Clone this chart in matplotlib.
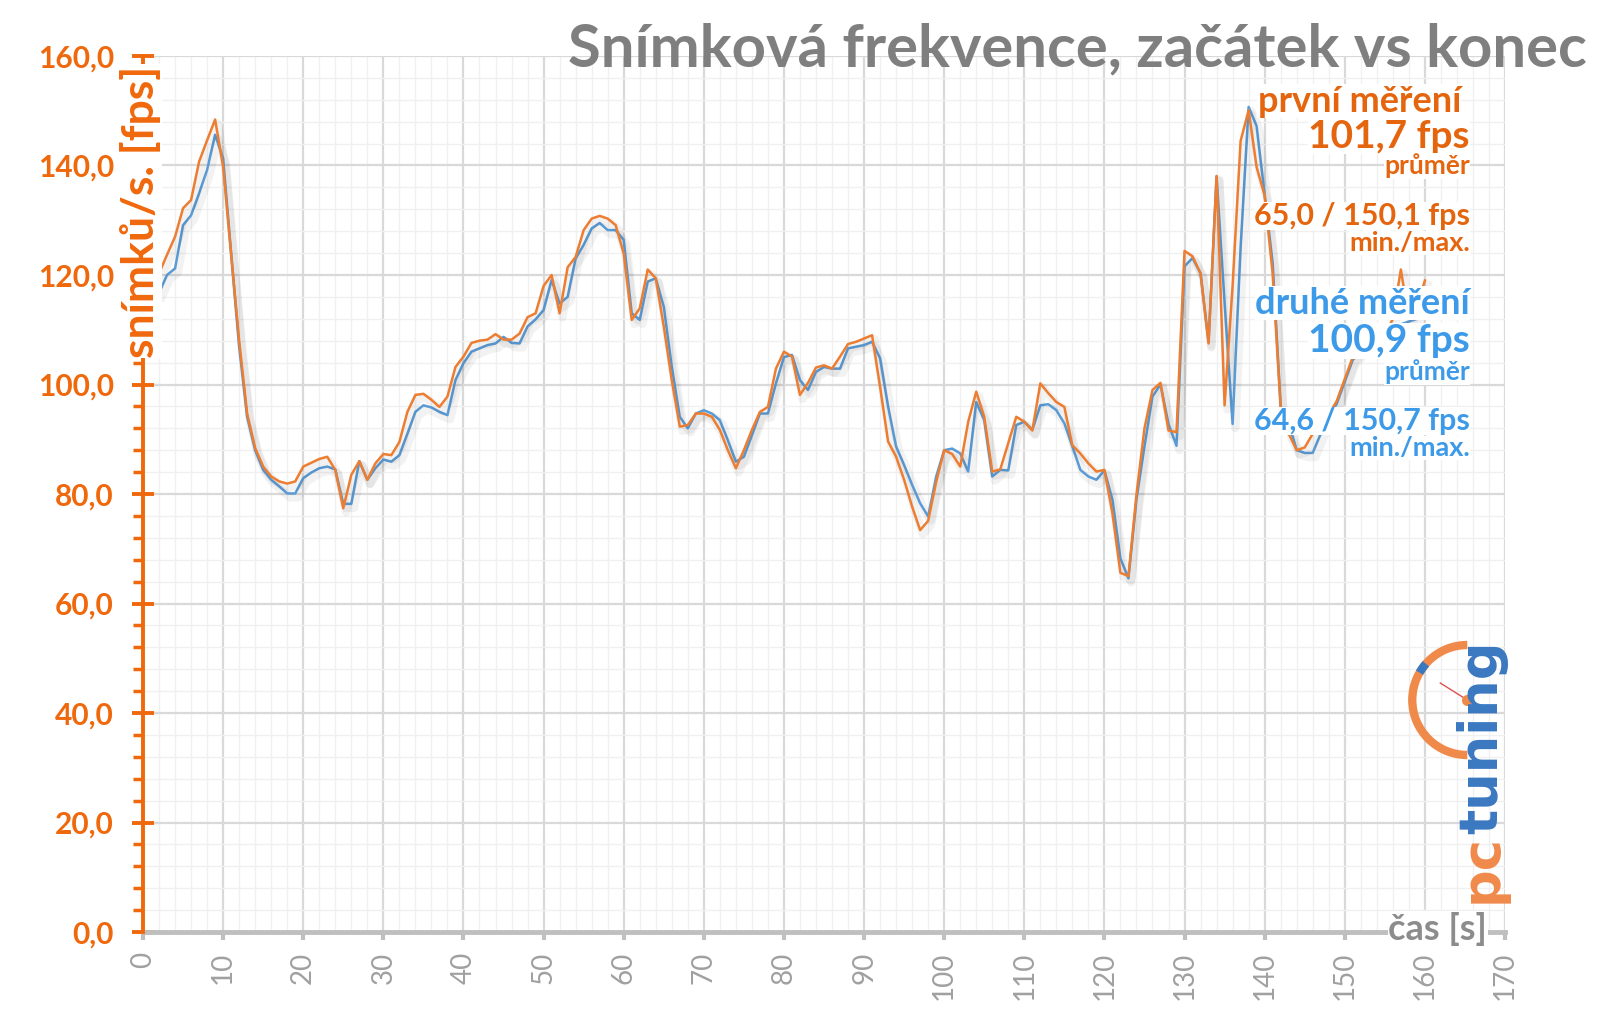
import matplotlib
matplotlib.use('Agg')
import matplotlib.pyplot as plt
import matplotlib.patheffects as pe
from matplotlib.patches import Arc
from matplotlib.ticker import MultipleLocator, FuncFormatter

plt.rcParams['font.family'] = ['Lato', 'DejaVu Sans']

# data, one point per second
seconds = list(range(2, 161))
first_run = [
    120.3, 123.7, 127.0, 132.2, 133.7, 140.7, 144.6, 148.4, 139.8, 124.0,   # 2-11
    108.0, 94.7, 88.4, 85.0, 83.2, 82.3, 81.9, 82.3, 85.0, 85.7,            # 12-21
    86.4, 86.8, 84.4, 77.4, 83.5, 86.0, 82.6, 85.6, 87.3, 87.1,             # 22-31
    89.5, 95.0, 98.1, 98.3, 97.2, 95.9, 97.8, 103.2, 105.1, 107.6,          # 32-41
    108.0, 108.2, 109.2, 108.2, 108.2, 109.3, 112.3, 113.0, 118.0, 120.0,   # 42-51
    113.0, 121.4, 123.3, 128.2, 130.3, 130.8, 130.3, 129.1, 123.9, 111.8,   # 52-61
    113.9, 121.0, 119.4, 110.6, 100.8, 92.3, 92.6, 94.7, 94.7, 94.1,        # 62-71
    91.7, 88.0, 84.7, 88.0, 91.7, 95.0, 95.9, 102.9, 106.0, 105.1,          # 72-81
    98.1, 100.3, 103.1, 103.5, 102.9, 105.1, 107.4, 107.8, 108.4, 109.0,    # 82-91
    99.6, 89.6, 86.8, 82.6, 77.7, 73.4, 75.1, 82.2, 88.0, 87.3,             # 92-101
    85.0, 93.2, 98.7, 94.1, 84.1, 84.5, 89.3, 94.1, 93.2, 91.6,             # 102-111
    100.2, 98.4, 96.8, 95.9, 88.9, 87.4, 85.6, 84.1, 84.4, 76.5,            # 112-121
    65.6, 65.0, 79.9, 92.0, 99.0, 100.3, 91.6, 91.3, 124.4, 123.4,          # 122-131
    120.3, 107.5, 138.1, 96.2, 118.0, 144.5, 150.1, 139.7, 134.5, 120.3,    # 132-141
    95.9, 91.0, 88.0, 88.5, 91.0, 93.5, 94.5, 97.0, 101.0, 105.0,           # 142-151
    107.0, 108.0, 110.0, 109.0, 112.0, 121.0, 112.0, 114.0, 119.0,          # 152-160
]
second_run = [
    116.7, 120.0, 121.2, 129.1, 130.9, 134.9, 139.2, 145.6, 141.3, 124.0,
    107.0, 94.1, 88.0, 84.4, 82.6, 81.4, 80.1, 80.1, 82.9, 83.9,
    84.7, 85.0, 84.5, 78.2, 78.2, 86.0, 82.6, 84.7, 86.3, 85.9,
    87.1, 91.0, 95.0, 96.2, 95.8, 95.0, 94.4, 100.8, 103.9, 106.0,
    106.6, 107.2, 107.5, 108.7, 107.6, 107.5, 110.6, 111.9, 113.6, 119.1,
    114.8, 116.0, 123.0, 125.5, 128.5, 129.5, 128.2, 128.2, 126.4, 113.0,
    111.8, 118.8, 119.4, 114.2, 103.3, 94.1, 92.0, 94.7, 95.3, 94.7,
    93.5, 89.8, 85.9, 86.8, 90.7, 94.7, 94.7, 100.2, 105.0, 105.4,
    100.8, 99.0, 102.3, 103.2, 102.9, 102.9, 106.6, 106.9, 107.2, 107.8,
    104.8, 96.0, 88.7, 85.3, 81.7, 78.3, 75.9, 83.2, 88.0, 88.3,
    87.4, 84.1, 96.8, 93.5, 83.2, 84.4, 84.3, 92.6, 93.2, 91.7,
    96.2, 96.4, 95.3, 92.9, 88.7, 84.4, 83.2, 82.6, 84.3, 79.0,
    68.2, 64.6, 79.0, 88.7, 97.8, 100.0, 92.8, 88.8, 121.6, 123.1,
    120.3, 107.8, 138.0, 115.0, 92.8, 125.0, 150.7, 147.2, 134.7, 122.2,
    96.0, 93.0, 88.0, 87.5, 87.5, 91.0, 94.0, 96.5, 100.5, 104.5,
    106.0, 108.0, 109.0, 110.0, 109.0, 111.0, 111.5, 112.0, 115.0,
]

title = 'Snímková frekvence, začátek vs konec'
y_label = 'snímků/s. [fps]'
x_label = 'čas [s]'
first_texts = ['první měření', '101,7 fps', 'průměr', '65,0 / 150,1 fps', 'min./max.']
second_texts = ['druhé měření', '100,9 fps', 'průměr', '64,6 / 150,7 fps', 'min./max.']

ORANGE = '#ED7D31'
BLUE = '#5B9BD5'
AXIS_ORANGE = '#F0680C'
TEXT_ORANGE = '#E4650E'
TEXT_BLUE = '#3C9AE8'
GRAY = '#7f7f7f'

W, H = 1600, 1015
fig = plt.figure(figsize=(W / 100, H / 100), dpi=100)
ax = fig.add_axes([143 / W, 83 / H, 1362 / W, 876 / H])

shadow = [pe.SimpleLineShadow(offset=(2, -3), alpha=0.05, linewidth=6), pe.Normal()]
ax.plot(seconds, second_run, color=BLUE, lw=1.8, zorder=3, path_effects=shadow)
ax.plot(seconds, first_run, color=ORANGE, lw=1.8, zorder=3, path_effects=shadow)

ax.set_xlim(0, 170)
ax.set_ylim(0, 160)
ax.xaxis.set_major_locator(MultipleLocator(10))
ax.xaxis.set_minor_locator(MultipleLocator(2))
ax.yaxis.set_major_locator(MultipleLocator(20))
ax.yaxis.set_minor_locator(MultipleLocator(4))
ax.yaxis.set_major_formatter(FuncFormatter(lambda v, p: f'{v:.1f}'.replace('.', ',')))

ax.set_axisbelow(True)
ax.grid(which='major', color='#d9d9d9', lw=1.6)
ax.grid(which='minor', color='#f0f0f0', lw=1.0)

for s in ['top', 'right']:
    ax.spines[s].set_visible(False)
ax.spines['left'].set_color(AXIS_ORANGE)
ax.spines['left'].set_linewidth(2.8)
ax.spines['bottom'].set_color('#bfbfbf')
ax.spines['bottom'].set_linewidth(3.5)
ax.spines['left'].set_zorder(4)

ax.tick_params(axis='y', which='major', direction='inout', length=16, width=2.8,
               color=AXIS_ORANGE, labelcolor=AXIS_ORANGE, labelsize=21.5, pad=13)
ax.tick_params(axis='y', which='minor', direction='out', length=7, width=2.5, color=AXIS_ORANGE)
ax.tick_params(axis='x', which='major', direction='out', length=6, width=3,
               color='#bfbfbf', labelcolor='#a0a0a0', labelsize=20, pad=8, labelrotation=90)
ax.tick_params(axis='x', which='minor', length=0)
for lab in ax.get_yticklabels():
    lab.set_fontweight('bold')

ax.text(-0.3, 158.3, y_label, rotation=90, ha='center', va='top', color=AXIS_ORANGE,
        fontsize=32, fontweight='bold', zorder=6, clip_on=False,
        bbox=dict(fc='white', ec='none', pad=0.5))
ax.text(167.8, 0.6, x_label, ha='right', va='center', color='#8c8c8c',
        fontsize=26, fontweight='bold', zorder=6, clip_on=False,
        bbox=dict(fc='white', ec='none', pad=0.3))

fig.text(1587 / W, 1 - 49 / H, title, ha='right', va='center',
         fontsize=43, fontweight='bold', color=GRAY)

# series summaries on the right
sizes = [26, 28, 19, 22, 19.5]
first_y = [101, 136, 166, 216, 243]
second_y = [303, 341, 372, 421, 448]
first_x = [1461, 1470, 1470, 1470, 1470]
for txt, yy, xx, fs in zip(first_texts, first_y, first_x, sizes):
    fig.text(xx / W, 1 - yy / H, txt, ha='right', va='center', fontsize=fs,
             fontweight='bold', color=TEXT_ORANGE,
             bbox=dict(fc='white', ec='none', pad=0.2))
for txt, yy, fs in zip(second_texts, second_y, sizes):
    fig.text(1470 / W, 1 - yy / H, txt, ha='right', va='center', fontsize=fs,
             fontweight='bold', color=TEXT_BLUE,
             bbox=dict(fc='white', ec='none', pad=0.2))

# pcTuning logo
cx, cy = (1467 - 143) / 8.01, (932 - 700) / 5.475
ax.add_patch(Arc((cx, cy), 110 / 8.01, 110 / 5.475, theta1=90, theta2=270,
                 color='#F08A4B', lw=6, zorder=2, clip_on=False))
ax.add_patch(Arc((cx, cy), 110 / 8.01, 110 / 5.475, theta1=128, theta2=140,
                 color='#3A78C0', lw=6, zorder=2, clip_on=False))
ax.plot([cx, cx - 27 / 8.01], [cy, cy + 17 / 5.475], color='#E05050', lw=1, zorder=2)
ax.plot([cx], [cy], 'o', color='#F08A4B', ms=7, zorder=2)
t_pc = fig.text(1497 / W, 112 / H, 'pc', rotation=90, rotation_mode='anchor',
                ha='left', va='baseline', fontsize=38, fontweight='bold',
                family='DejaVu Sans', color='#F08A4B')
fig.canvas.draw()
bb = t_pc.get_window_extent()
fig.text(1497 / W, bb.y1 / H, 'tuning', rotation=90, rotation_mode='anchor',
         ha='left', va='baseline', fontsize=38, fontweight='bold',
         family='DejaVu Sans', color='#3A78C0')

fig.savefig('out.png', dpi=100, facecolor='white')
